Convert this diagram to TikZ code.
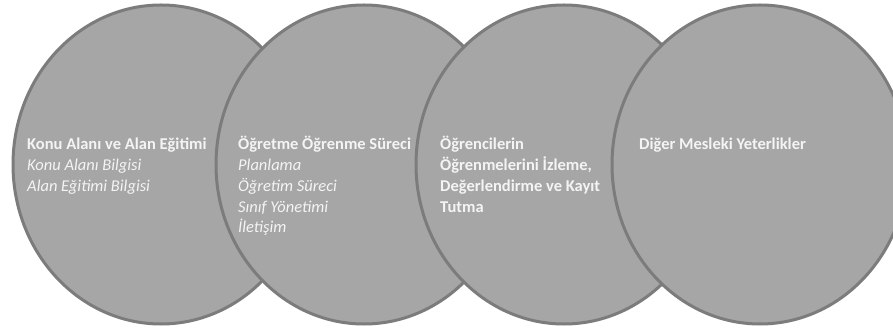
\documentclass[tikz,border=0pt]{standalone}
\usepackage{fontspec}
\setmainfont{Carlito}
\definecolor{circfill}{HTML}{A6A6A6}
\definecolor{circline}{HTML}{7C7C7C}
\definecolor{txt}{HTML}{F4F4F4}
\tikzset{
  circ/.style={draw=circline, fill=circfill, line width=3pt},
  lbl/.style={anchor=base west, align=left, text=txt, inner sep=0pt,
    font=\fontsize{16.5}{20.7}\selectfont}
}
\begin{document}
\begin{tikzpicture}[x=1pt,y=1pt]
\useasboundingbox (0,0) rectangle (893,329);
\fill[white] (0,0) rectangle (893,329);
\coordinate (k1) at (161,164.5);
\coordinate (k2) at (364,164.5);
\coordinate (k3) at (564,164.5);
\coordinate (k4) at (760,164.5);
\draw[circ] (k1) ellipse [x radius=148, y radius=159.5];
\draw[circ] (k2) ellipse [x radius=148, y radius=159.5];
\draw[circ] (k3) ellipse [x radius=148, y radius=159.5];
\draw[circ] (k4) ellipse [x radius=148, y radius=159.5];
\node[lbl] (t1) at (27,137.6) {\textbf{Konu Alanı ve Alan Eğitimi}\\\textit{Konu Alanı Bilgisi}\\\textit{Alan Eğitimi Bilgisi}};
\node[lbl] (t2) at (238,96.2) {\textbf{Öğretme Öğrenme Süreci}\\\textit{Planlama}\\\textit{Öğretim Süreci}\\\textit{Sınıf Yönetimi}\\\textit{İletişim}};
\node[lbl] (t3) at (440,116.9) {\textbf{Öğrencilerin}\\\textbf{Öğrenmelerini İzleme,}\\\textbf{Değerlendirme ve Kayıt}\\\textbf{Tutma}};
\node[lbl] (t4) at (639,179) {\textbf{Diğer Mesleki Yeterlikler}};
\end{tikzpicture}
\end{document}
